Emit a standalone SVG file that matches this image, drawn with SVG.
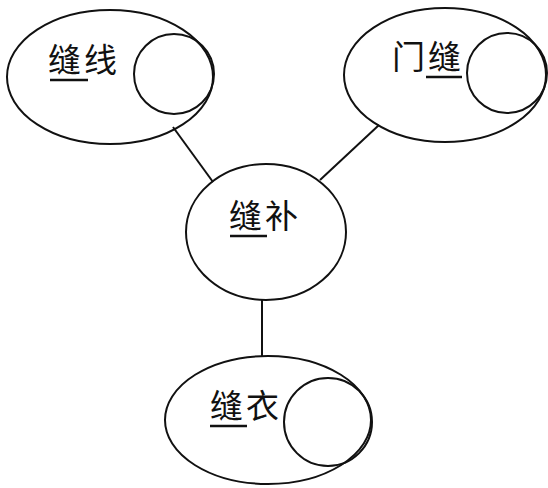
<svg xmlns="http://www.w3.org/2000/svg" width="548" height="488" viewBox="0 0 548 488">
<style>
.o{fill:none;stroke:#111;stroke-width:2}
.c{fill:none;stroke:#111;stroke-width:2}
.t{font-family:"Noto Sans CJK SC","Noto Sans CJK JP",sans-serif;font-size:33px;letter-spacing:3px;fill:#111}
.u{stroke:#111;stroke-width:2.5}
</style>
<rect width="548" height="488" fill="#fff"/>
<g id="connectors" class="c">
<line x1="173" y1="127" x2="213" y2="182"/>
<line x1="379" y1="125" x2="320" y2="180"/>
<line x1="262" y1="300" x2="262" y2="356"/>
</g>
<g id="node-fengxian">
<ellipse class="o" cx="110" cy="77" rx="103" ry="67"/>
<circle class="o" cx="174" cy="74" r="40"/>
<text class="t" x="48" y="72">缝线</text>
<line class="u" x1="50" y1="80" x2="88" y2="80"/>
</g>
<g id="node-menfeng">
<ellipse class="o" cx="445" cy="75" rx="101" ry="67"/>
<circle class="o" cx="507" cy="73" r="40"/>
<text class="t" x="392" y="69">门缝</text>
<line class="u" x1="426" y1="77" x2="462" y2="77"/>
</g>
<g id="node-fengbu">
<ellipse class="o" cx="266" cy="232" rx="80" ry="68"/>
<text class="t" x="229" y="228">缝补</text>
<line class="u" x1="230" y1="236" x2="267" y2="236"/>
</g>
<g id="node-fengyi">
<ellipse class="o" cx="268" cy="420" rx="103" ry="64"/>
<circle class="o" cx="328" cy="422" r="44"/>
<text class="t" x="210" y="418">缝衣</text>
<line class="u" x1="210" y1="426" x2="247" y2="426"/>
</g>
</svg>
